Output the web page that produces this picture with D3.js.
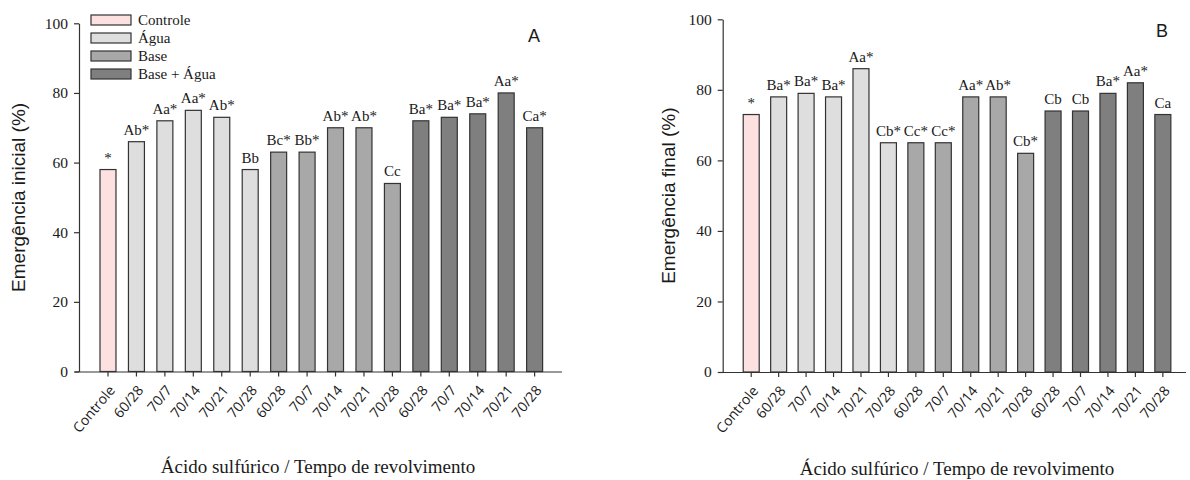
<!DOCTYPE html>
<html>
<head>
<meta charset="utf-8">
<script src="https://cdn.jsdelivr.net/npm/d3@7"></script>
<style>
  body { margin: 0; background: #fff; }
  svg text { fill: #1a1a1a; }
  .serif { font-family: "Liberation Serif", "DejaVu Serif", serif; }
  .sans { font-family: "Liberation Sans", Arial, sans-serif; }
  .tick-x { font-family: "Open Sans", "DejaVu Sans", sans-serif; }
</style>
</head>
<body>
<svg id="chart" width="1190" height="480"></svg>
<script>
// data
var categorias = ["Controle", "60/28", "70/7", "70/14", "70/21", "70/28",
                  "60/28", "70/7", "70/14", "70/21", "70/28",
                  "60/28", "70/7", "70/14", "70/21", "70/28"];
var grupos = ["Controle", "Água", "Água", "Água", "Água", "Água",
              "Base", "Base", "Base", "Base", "Base",
              "Base + Água", "Base + Água", "Base + Água", "Base + Água", "Base + Água"];
var emergenciaInicial = [58, 66, 72, 75, 73, 58, 63, 63, 70, 70, 54, 72, 73, 74, 80, 70];
var letrasInicial = ["*", "Ab*", "Aa*", "Aa*", "Ab*", "Bb", "Bc*", "Bb*", "Ab*", "Ab*", "Cc", "Ba*", "Ba*", "Ba*", "Aa*", "Ca*"];
var emergenciaFinal = [73, 78, 79, 78, 86, 65, 65, 65, 78, 78, 62, 74, 74, 79, 82, 73];
var letrasFinal = ["*", "Ba*", "Ba*", "Ba*", "Aa*", "Cb*", "Cc*", "Cc*", "Aa*", "Ab*", "Cb*", "Cb", "Cb", "Ba*", "Aa*", "Ca"];
var yTicks = [0, 20, 40, 60, 80, 100];
var legenda = ["Controle", "Água", "Base", "Base + Água"];

var cores = d3.scaleOrdinal()
    .domain(legenda)
    .range(["#fde0e0", "#dedede", "#a8a8a8", "#7f7f7f"]);

var svg = d3.select("#chart");

var drawPanel = function (cfg) {
  var g = svg.append("g");
  var idx = d3.range(categorias.length);

  var x = d3.scaleBand()
      .domain(idx)
      .range([cfg.x0, cfg.x1])
      .paddingInner(cfg.pIn)
      .paddingOuter(cfg.pOut)
      .align(cfg.align);
  var y = d3.scaleLinear().domain([0, 100]).range([cfg.y0, cfg.y1]);

  // y axis
  var ya = g.append("g")
      .attr("transform", "translate(" + cfg.x0 + ",0)")
      .call(d3.axisLeft(y).tickValues(yTicks).tickSize(5).tickSizeOuter(0).tickPadding(6));
  ya.selectAll("text").attr("class", "serif").style("font-size", "15.5px");

  // x axis
  var xa = g.append("g")
      .attr("transform", "translate(0," + cfg.y0 + ")")
      .call(d3.axisBottom(x).tickSize(5).tickSizeOuter(0).tickFormat(function (i) { return categorias[i]; }));
  xa.select(".domain").attr("d", "M" + (cfg.x0 - 4) + ",0.5H" + cfg.x1);
  xa.selectAll("text")
      .attr("class", "tick-x")
      .style("font-size", "14px")
      .attr("text-anchor", "end")
      .attr("x", 0).attr("y", 0).attr("dy", "0.35em")
      .attr("transform", "translate(4,16) rotate(-50)");
  g.selectAll(".domain, .tick line").attr("stroke", "#333").attr("stroke-width", 1.2);

  // bars
  g.selectAll(".bar")
      .data(idx)
    .enter().append("rect")
      .attr("class", "bar")
      .attr("x", function (i) { return x(i); })
      .attr("y", function (i) { return y(cfg.values[i]); })
      .attr("width", x.bandwidth())
      .attr("height", function (i) { return y(0) - y(cfg.values[i]); })
      .attr("fill", function (i) { return cores(grupos[i]); })
      .attr("stroke", "#333")
      .attr("stroke-width", 1.2);

  // letters above bars
  g.selectAll(".lbl")
      .data(idx)
    .enter().append("text")
      .attr("class", "lbl serif")
      .attr("x", function (i) { return x(i) + x.bandwidth() / 2; })
      .attr("y", function (i) { return y(cfg.values[i]) - 7; })
      .attr("text-anchor", "middle")
      .style("font-size", "15px")
      .text(function (i) { return cfg.letters[i]; });

  // axis titles
  g.append("text")
      .attr("class", "sans")
      .attr("transform", "translate(" + cfg.yTitleX + "," + ((cfg.y0 + cfg.y1) / 2) + ") rotate(-90)")
      .attr("text-anchor", "middle")
      .style("font-size", "19px")
      .text(cfg.yTitle);
  g.append("text")
      .attr("class", "serif")
      .attr("x", cfg.xTitleX)
      .attr("y", cfg.xTitleY)
      .attr("text-anchor", "middle")
      .style("font-size", "19px")
      .text("Ácido sulfúrico / Tempo de revolvimento");

  g.append("text")
      .attr("class", "sans")
      .attr("x", cfg.tagX)
      .attr("y", cfg.tagY)
      .attr("text-anchor", "middle")
      .style("font-size", "18px")
      .text(cfg.tag);
};

drawPanel({
  x0: 79, x1: 562, y0: 371.5, y1: 23.3,
  pIn: 0.438, pOut: 0.71, align: 0.52,
  values: emergenciaInicial, letters: letrasInicial,
  yTitle: "Emergência inicial (%)", yTitleX: 25,
  xTitleX: 318, xTitleY: 473,
  tag: "A", tagX: 534, tagY: 41.5
});

drawPanel({
  x0: 722.7, x1: 1186, y0: 372, y1: 19.3,
  pIn: 0.417, pOut: 0.65, align: 0.575,
  values: emergenciaFinal, letters: letrasFinal,
  yTitle: "Emergência final (%)", yTitleX: 675,
  xTitleX: 957, xTitleY: 475,
  tag: "B", tagX: 1162, tagY: 37.3
});

// legend (panel A)
var leg = svg.append("g").attr("transform", "translate(91,15)");
var items = leg.selectAll("g")
    .data(legenda)
  .enter().append("g")
    .attr("transform", function (d, i) { return "translate(0," + (i * 18) + ")"; });
items.append("rect")
    .attr("width", 40)
    .attr("height", 10)
    .attr("fill", function (d) { return cores(d); })
    .attr("stroke", "#333")
    .attr("stroke-width", 1.2);
items.append("text")
    .attr("class", "serif")
    .attr("x", 47)
    .attr("y", 10)
    .style("font-size", "15px")
    .text(function (d) { return d; });
</script>
</body>
</html>
